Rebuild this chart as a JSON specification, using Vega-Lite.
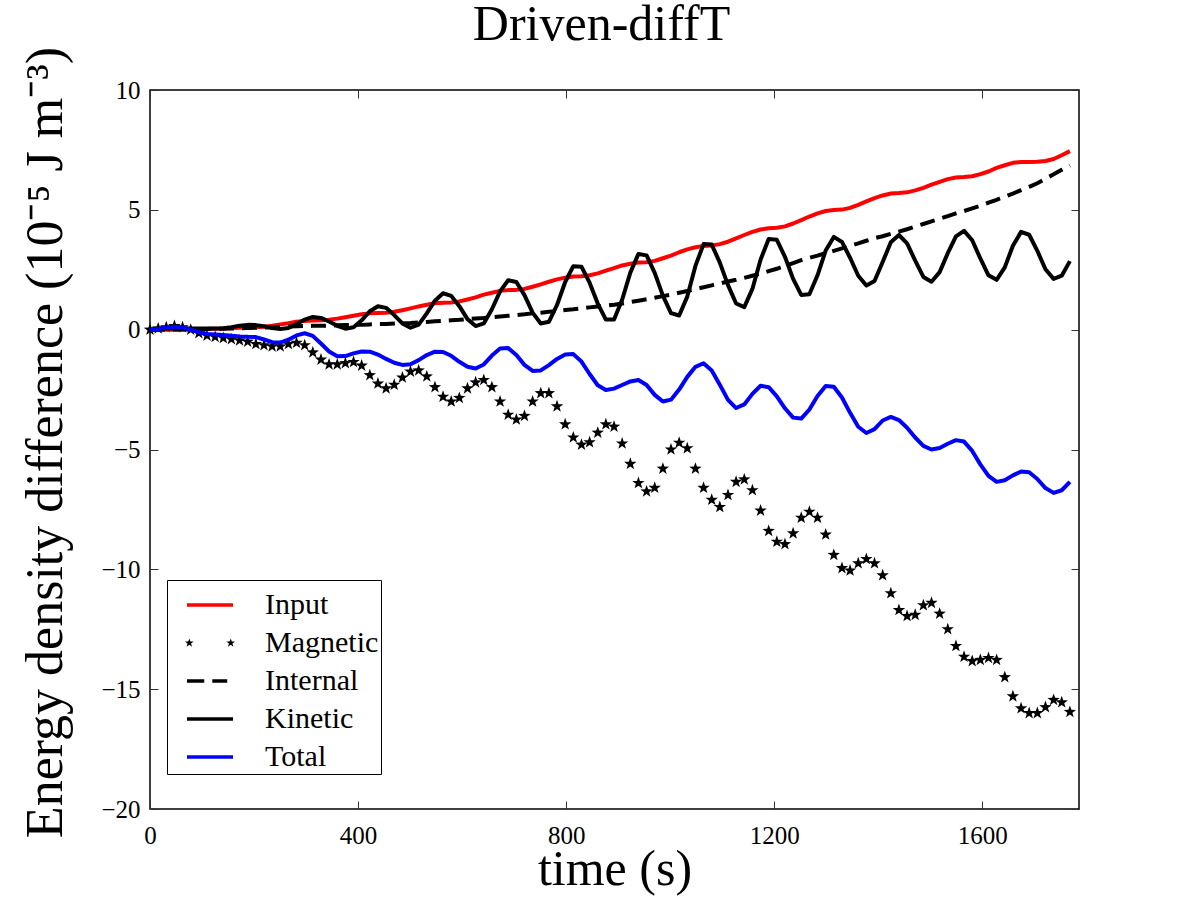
{
  "$schema": "https://vega.github.io/schema/vega-lite/v6.json",
  "width": 929,
  "height": 719,
  "autosize": {"type": "none"},
  "padding": {"left": 150, "top": 90, "right": 121, "bottom": 91},
  "background": "white",
  "title": {
    "text": "Driven-diffT",
    "font": "Liberation Serif",
    "fontSize": 50,
    "fontWeight": "normal",
    "color": "black",
    "anchor": "middle",
    "baseline": "alphabetic",
    "offset": 6,
    "dy": 50,
    "dx": -13
  },
  "config": {
    "view": {"stroke": "black", "strokeWidth": 1.5},
    "axis": {
      "domain": false,
      "grid": false,
      "tickSize": -8,
      "tickColor": "#333333",
      "tickWidth": 1,
      "labelFont": "Liberation Serif",
      "labelFontSize": 25,
      "labelColor": "black",
      "labelFlush": false,
      "labelOverlap": false,
      "titleFont": "Liberation Serif",
      "titleFontSize": 50,
      "titleFontWeight": "normal",
      "titleColor": "black"
    }
  },
  "data": {
    "values": [
      {"t": 0, "Input": 0, "Magnetic": 0, "Internal": 0, "Kinetic": 0, "Total": 0},
      {"t": 15.7, "Input": 0, "Magnetic": 0.05, "Internal": 0, "Kinetic": 0.02, "Total": 0.03},
      {"t": 31.3, "Input": 0, "Magnetic": 0.1, "Internal": 0.01, "Kinetic": 0.05, "Total": 0.09},
      {"t": 47.0, "Input": 0, "Magnetic": 0.15, "Internal": 0.01, "Kinetic": 0.05, "Total": 0.12},
      {"t": 62.6, "Input": 0.01, "Magnetic": 0.1, "Internal": 0.01, "Kinetic": 0.05, "Total": 0.09},
      {"t": 78.3, "Input": 0.01, "Magnetic": 0.0, "Internal": 0.02, "Kinetic": 0.05, "Total": 0.0},
      {"t": 93.9, "Input": 0.02, "Magnetic": -0.15, "Internal": 0.02, "Kinetic": 0.05, "Total": -0.11},
      {"t": 109.6, "Input": 0.03, "Magnetic": -0.25, "Internal": 0.03, "Kinetic": 0.05, "Total": -0.18},
      {"t": 125.2, "Input": 0.04, "Magnetic": -0.3, "Internal": 0.04, "Kinetic": 0.05, "Total": -0.2},
      {"t": 140.9, "Input": 0.05, "Magnetic": -0.35, "Internal": 0.04, "Kinetic": 0.06, "Total": -0.22},
      {"t": 156.5, "Input": 0.07, "Magnetic": -0.4, "Internal": 0.05, "Kinetic": 0.1, "Total": -0.25},
      {"t": 172.2, "Input": 0.08, "Magnetic": -0.45, "Internal": 0.06, "Kinetic": 0.16, "Total": -0.28},
      {"t": 187.8, "Input": 0.1, "Magnetic": -0.5, "Internal": 0.07, "Kinetic": 0.2, "Total": -0.3},
      {"t": 203.5, "Input": 0.1, "Magnetic": -0.6, "Internal": 0.08, "Kinetic": 0.19, "Total": -0.31},
      {"t": 219.1, "Input": 0.12, "Magnetic": -0.65, "Internal": 0.09, "Kinetic": 0.14, "Total": -0.41},
      {"t": 234.8, "Input": 0.16, "Magnetic": -0.7, "Internal": 0.1, "Kinetic": 0.07, "Total": -0.52},
      {"t": 250.4, "Input": 0.22, "Magnetic": -0.7, "Internal": 0.12, "Kinetic": 0.03, "Total": -0.54},
      {"t": 266.1, "Input": 0.27, "Magnetic": -0.6, "Internal": 0.13, "Kinetic": 0.07, "Total": -0.42},
      {"t": 281.7, "Input": 0.33, "Magnetic": -0.55, "Internal": 0.14, "Kinetic": 0.24, "Total": -0.24},
      {"t": 297.4, "Input": 0.36, "Magnetic": -0.65, "Internal": 0.15, "Kinetic": 0.42, "Total": -0.15},
      {"t": 313.0, "Input": 0.38, "Magnetic": -0.95, "Internal": 0.16, "Kinetic": 0.53, "Total": -0.26},
      {"t": 328.7, "Input": 0.39, "Magnetic": -1.25, "Internal": 0.16, "Kinetic": 0.49, "Total": -0.58},
      {"t": 344.3, "Input": 0.41, "Magnetic": -1.45, "Internal": 0.17, "Kinetic": 0.34, "Total": -0.91},
      {"t": 360.0, "Input": 0.46, "Magnetic": -1.45, "Internal": 0.18, "Kinetic": 0.16, "Total": -1.11},
      {"t": 375.6, "Input": 0.52, "Magnetic": -1.4, "Internal": 0.19, "Kinetic": 0.04, "Total": -1.1},
      {"t": 391.3, "Input": 0.58, "Magnetic": -1.35, "Internal": 0.2, "Kinetic": 0.1, "Total": -0.99},
      {"t": 406.9, "Input": 0.64, "Magnetic": -1.5, "Internal": 0.2, "Kinetic": 0.39, "Total": -0.91},
      {"t": 422.6, "Input": 0.68, "Magnetic": -1.9, "Internal": 0.22, "Kinetic": 0.77, "Total": -0.92},
      {"t": 438.2, "Input": 0.7, "Magnetic": -2.25, "Internal": 0.23, "Kinetic": 0.98, "Total": -1.04},
      {"t": 453.9, "Input": 0.71, "Magnetic": -2.45, "Internal": 0.24, "Kinetic": 0.91, "Total": -1.22},
      {"t": 469.5, "Input": 0.75, "Magnetic": -2.3, "Internal": 0.26, "Kinetic": 0.61, "Total": -1.38},
      {"t": 485.2, "Input": 0.81, "Magnetic": -2.0, "Internal": 0.27, "Kinetic": 0.26, "Total": -1.47},
      {"t": 500.8, "Input": 0.89, "Magnetic": -1.75, "Internal": 0.28, "Kinetic": 0.08, "Total": -1.44},
      {"t": 516.5, "Input": 0.97, "Magnetic": -1.7, "Internal": 0.3, "Kinetic": 0.21, "Total": -1.27},
      {"t": 532.1, "Input": 1.04, "Magnetic": -1.95, "Internal": 0.32, "Kinetic": 0.68, "Total": -1.06},
      {"t": 547.8, "Input": 1.1, "Magnetic": -2.4, "Internal": 0.35, "Kinetic": 1.21, "Total": -0.92},
      {"t": 563.4, "Input": 1.12, "Magnetic": -2.8, "Internal": 0.37, "Kinetic": 1.52, "Total": -0.93},
      {"t": 579.1, "Input": 1.13, "Magnetic": -3.0, "Internal": 0.39, "Kinetic": 1.41, "Total": -1.09},
      {"t": 594.7, "Input": 1.18, "Magnetic": -2.85, "Internal": 0.41, "Kinetic": 0.98, "Total": -1.34},
      {"t": 610.4, "Input": 1.26, "Magnetic": -2.45, "Internal": 0.44, "Kinetic": 0.44, "Total": -1.55},
      {"t": 626.0, "Input": 1.35, "Magnetic": -2.2, "Internal": 0.47, "Kinetic": 0.15, "Total": -1.62},
      {"t": 641.7, "Input": 1.46, "Magnetic": -2.1, "Internal": 0.49, "Kinetic": 0.26, "Total": -1.45},
      {"t": 657.3, "Input": 1.54, "Magnetic": -2.4, "Internal": 0.52, "Kinetic": 0.85, "Total": -1.08},
      {"t": 673.0, "Input": 1.62, "Magnetic": -3.0, "Internal": 0.55, "Kinetic": 1.6, "Total": -0.79},
      {"t": 688.6, "Input": 1.65, "Magnetic": -3.55, "Internal": 0.58, "Kinetic": 2.06, "Total": -0.77},
      {"t": 704.3, "Input": 1.66, "Magnetic": -3.75, "Internal": 0.61, "Kinetic": 1.99, "Total": -1.06},
      {"t": 719.9, "Input": 1.7, "Magnetic": -3.6, "Internal": 0.64, "Kinetic": 1.44, "Total": -1.47},
      {"t": 735.6, "Input": 1.79, "Magnetic": -3.0, "Internal": 0.68, "Kinetic": 0.71, "Total": -1.72},
      {"t": 751.2, "Input": 1.89, "Magnetic": -2.65, "Internal": 0.71, "Kinetic": 0.26, "Total": -1.7},
      {"t": 766.9, "Input": 2.0, "Magnetic": -2.65, "Internal": 0.75, "Kinetic": 0.33, "Total": -1.48},
      {"t": 782.5, "Input": 2.1, "Magnetic": -3.2, "Internal": 0.78, "Kinetic": 1.03, "Total": -1.22},
      {"t": 798.2, "Input": 2.17, "Magnetic": -3.95, "Internal": 0.82, "Kinetic": 1.99, "Total": -1.04},
      {"t": 813.8, "Input": 2.22, "Magnetic": -4.5, "Internal": 0.85, "Kinetic": 2.65, "Total": -1.02},
      {"t": 829.5, "Input": 2.23, "Magnetic": -4.8, "Internal": 0.89, "Kinetic": 2.63, "Total": -1.33},
      {"t": 845.1, "Input": 2.27, "Magnetic": -4.7, "Internal": 0.93, "Kinetic": 1.96, "Total": -1.85},
      {"t": 860.8, "Input": 2.35, "Magnetic": -4.3, "Internal": 0.97, "Kinetic": 1.09, "Total": -2.32},
      {"t": 876.4, "Input": 2.46, "Magnetic": -3.95, "Internal": 1.0, "Kinetic": 0.42, "Total": -2.52},
      {"t": 892.1, "Input": 2.57, "Magnetic": -4.05, "Internal": 1.04, "Kinetic": 0.42, "Total": -2.46},
      {"t": 907.7, "Input": 2.68, "Magnetic": -4.75, "Internal": 1.09, "Kinetic": 1.25, "Total": -2.31},
      {"t": 923.4, "Input": 2.75, "Magnetic": -5.6, "Internal": 1.15, "Kinetic": 2.38, "Total": -2.16},
      {"t": 939.0, "Input": 2.8, "Magnetic": -6.4, "Internal": 1.21, "Kinetic": 3.16, "Total": -2.1},
      {"t": 954.7, "Input": 2.81, "Magnetic": -6.75, "Internal": 1.27, "Kinetic": 3.1, "Total": -2.31},
      {"t": 970.3, "Input": 2.87, "Magnetic": -6.6, "Internal": 1.33, "Kinetic": 2.37, "Total": -2.72},
      {"t": 986.0, "Input": 2.98, "Magnetic": -5.8, "Internal": 1.4, "Kinetic": 1.42, "Total": -3.0},
      {"t": 1001.6, "Input": 3.09, "Magnetic": -5.0, "Internal": 1.46, "Kinetic": 0.69, "Total": -2.92},
      {"t": 1017.3, "Input": 3.23, "Magnetic": -4.72, "Internal": 1.54, "Kinetic": 0.59, "Total": -2.5},
      {"t": 1032.9, "Input": 3.35, "Magnetic": -4.95, "Internal": 1.61, "Kinetic": 1.38, "Total": -1.97},
      {"t": 1048.6, "Input": 3.44, "Magnetic": -5.8, "Internal": 1.69, "Kinetic": 2.66, "Total": -1.55},
      {"t": 1064.2, "Input": 3.49, "Magnetic": -6.6, "Internal": 1.77, "Kinetic": 3.57, "Total": -1.4},
      {"t": 1079.9, "Input": 3.51, "Magnetic": -7.1, "Internal": 1.85, "Kinetic": 3.55, "Total": -1.7},
      {"t": 1095.5, "Input": 3.57, "Magnetic": -7.4, "Internal": 1.93, "Kinetic": 2.8, "Total": -2.3},
      {"t": 1111.2, "Input": 3.67, "Magnetic": -6.9, "Internal": 2.01, "Kinetic": 1.86, "Total": -2.93},
      {"t": 1126.8, "Input": 3.81, "Magnetic": -6.35, "Internal": 2.08, "Kinetic": 1.09, "Total": -3.27},
      {"t": 1142.5, "Input": 3.95, "Magnetic": -6.25, "Internal": 2.16, "Kinetic": 0.94, "Total": -3.12},
      {"t": 1158.1, "Input": 4.08, "Magnetic": -6.7, "Internal": 2.25, "Kinetic": 1.7, "Total": -2.68},
      {"t": 1173.8, "Input": 4.18, "Magnetic": -7.55, "Internal": 2.34, "Kinetic": 2.92, "Total": -2.34},
      {"t": 1189.4, "Input": 4.23, "Magnetic": -8.4, "Internal": 2.44, "Kinetic": 3.78, "Total": -2.4},
      {"t": 1205.1, "Input": 4.25, "Magnetic": -8.85, "Internal": 2.54, "Kinetic": 3.75, "Total": -2.78},
      {"t": 1220.7, "Input": 4.31, "Magnetic": -8.95, "Internal": 2.66, "Kinetic": 3.04, "Total": -3.28},
      {"t": 1236.4, "Input": 4.43, "Magnetic": -8.5, "Internal": 2.78, "Kinetic": 2.12, "Total": -3.67},
      {"t": 1252.0, "Input": 4.57, "Magnetic": -7.85, "Internal": 2.9, "Kinetic": 1.45, "Total": -3.71},
      {"t": 1267.7, "Input": 4.72, "Magnetic": -7.6, "Internal": 3.0, "Kinetic": 1.48, "Total": -3.33},
      {"t": 1283.3, "Input": 4.85, "Magnetic": -7.85, "Internal": 3.09, "Kinetic": 2.27, "Total": -2.77},
      {"t": 1299.0, "Input": 4.95, "Magnetic": -8.55, "Internal": 3.19, "Kinetic": 3.3, "Total": -2.35},
      {"t": 1314.6, "Input": 4.99, "Magnetic": -9.4, "Internal": 3.29, "Kinetic": 3.87, "Total": -2.38},
      {"t": 1330.3, "Input": 5.01, "Magnetic": -9.95, "Internal": 3.39, "Kinetic": 3.66, "Total": -2.83},
      {"t": 1345.9, "Input": 5.08, "Magnetic": -10.05, "Internal": 3.5, "Kinetic": 3.0, "Total": -3.47},
      {"t": 1361.6, "Input": 5.21, "Magnetic": -9.75, "Internal": 3.6, "Kinetic": 2.25, "Total": -4.05},
      {"t": 1377.2, "Input": 5.35, "Magnetic": -9.57, "Internal": 3.71, "Kinetic": 1.84, "Total": -4.31},
      {"t": 1392.9, "Input": 5.49, "Magnetic": -9.75, "Internal": 3.82, "Kinetic": 2.03, "Total": -4.15},
      {"t": 1408.5, "Input": 5.6, "Magnetic": -10.25, "Internal": 3.9, "Kinetic": 2.82, "Total": -3.79},
      {"t": 1424.2, "Input": 5.68, "Magnetic": -11.0, "Internal": 4.0, "Kinetic": 3.65, "Total": -3.64},
      {"t": 1439.8, "Input": 5.7, "Magnetic": -11.7, "Internal": 4.09, "Kinetic": 3.95, "Total": -3.77},
      {"t": 1455.5, "Input": 5.73, "Magnetic": -11.95, "Internal": 4.19, "Kinetic": 3.6, "Total": -4.09},
      {"t": 1471.1, "Input": 5.81, "Magnetic": -11.9, "Internal": 4.3, "Kinetic": 2.88, "Total": -4.5},
      {"t": 1486.8, "Input": 5.92, "Magnetic": -11.5, "Internal": 4.41, "Kinetic": 2.2, "Total": -4.85},
      {"t": 1502.4, "Input": 6.05, "Magnetic": -11.4, "Internal": 4.52, "Kinetic": 2.0, "Total": -5.0},
      {"t": 1518.1, "Input": 6.17, "Magnetic": -11.85, "Internal": 4.63, "Kinetic": 2.4, "Total": -4.94},
      {"t": 1533.7, "Input": 6.28, "Magnetic": -12.5, "Internal": 4.74, "Kinetic": 3.19, "Total": -4.76},
      {"t": 1549.4, "Input": 6.35, "Magnetic": -13.2, "Internal": 4.85, "Kinetic": 3.89, "Total": -4.61},
      {"t": 1565.0, "Input": 6.37, "Magnetic": -13.65, "Internal": 4.95, "Kinetic": 4.12, "Total": -4.67},
      {"t": 1580.7, "Input": 6.4, "Magnetic": -13.83, "Internal": 5.06, "Kinetic": 3.73, "Total": -5.06},
      {"t": 1596.3, "Input": 6.49, "Magnetic": -13.78, "Internal": 5.17, "Kinetic": 2.97, "Total": -5.62},
      {"t": 1612.0, "Input": 6.6, "Magnetic": -13.7, "Internal": 5.3, "Kinetic": 2.27, "Total": -6.1},
      {"t": 1627.6, "Input": 6.75, "Magnetic": -13.78, "Internal": 5.42, "Kinetic": 2.08, "Total": -6.35},
      {"t": 1643.3, "Input": 6.86, "Magnetic": -14.5, "Internal": 5.55, "Kinetic": 2.6, "Total": -6.28},
      {"t": 1658.9, "Input": 6.96, "Magnetic": -15.3, "Internal": 5.68, "Kinetic": 3.5, "Total": -6.08},
      {"t": 1674.6, "Input": 7.0, "Magnetic": -15.8, "Internal": 5.82, "Kinetic": 4.08, "Total": -5.92},
      {"t": 1690.2, "Input": 7.0, "Magnetic": -16.0, "Internal": 5.96, "Kinetic": 3.96, "Total": -5.95},
      {"t": 1705.9, "Input": 7.01, "Magnetic": -16.0, "Internal": 6.11, "Kinetic": 3.29, "Total": -6.23},
      {"t": 1721.5, "Input": 7.04, "Magnetic": -15.75, "Internal": 6.3, "Kinetic": 2.52, "Total": -6.61},
      {"t": 1737.2, "Input": 7.12, "Magnetic": -15.45, "Internal": 6.48, "Kinetic": 2.12, "Total": -6.81},
      {"t": 1752.8, "Input": 7.28, "Magnetic": -15.55, "Internal": 6.67, "Kinetic": 2.25, "Total": -6.7},
      {"t": 1768.5, "Input": 7.45, "Magnetic": -15.95, "Internal": 6.85, "Kinetic": 2.86, "Total": -6.35}
    ]
  },
  "transform": [
    {"fold": ["Input", "Magnetic", "Internal", "Kinetic", "Total"], "as": ["series", "value"]}
  ],
  "layer": [
    {
      "transform": [{"filter": "datum.series === 'Magnetic'"}],
      "mark": {
        "type": "point",
        "shape": "M0,-1L0.235,-0.324L0.951,-0.309L0.38,0.124L0.588,0.809L0,0.4L-0.588,0.809L-0.38,0.124L-0.951,-0.309L-0.235,-0.324Z",
        "filled": true,
        "color": "black",
        "opacity": 1,
        "size": 170
      },
      "encoding": {
        "x": {
          "field": "t",
          "type": "quantitative",
          "scale": {"domain": [0, 1786], "nice": false, "zero": false},
          "axis": {"orient": "top", "values": [0, 400, 800, 1200, 1600], "labels": false, "title": null}
        },
        "y": {
          "field": "value",
          "type": "quantitative",
          "scale": {"domain": [-20, 10], "nice": false, "zero": false},
          "axis": {"orient": "right", "values": [-20, -15, -10, -5, 0, 5, 10], "labels": false, "title": null}
        }
      }
    },
    {
      "transform": [{"filter": "datum.series === 'Input'"}],
      "mark": {"type": "line", "strokeWidth": 4, "strokeJoin": "round", "color": "#ff0000"},
      "encoding": {
        "x": {
          "field": "t",
          "type": "quantitative",
          "scale": {"domain": [0, 1786], "nice": false, "zero": false},
          "axis": {
            "orient": "bottom",
            "values": [0, 400, 800, 1200, 1600],
            "format": "d",
            "labelPadding": 22,
            "title": "time (s)",
            "titleY": 75,
            "titleBaseline": "alphabetic"
          }
        },
        "y": {
          "field": "value",
          "type": "quantitative",
          "scale": {"domain": [-20, 10], "nice": false, "zero": false},
          "axis": {
            "orient": "left",
            "values": [-20, -15, -10, -5, 0, 5, 10],
            "format": "d",
            "labelPadding": 18,
            "title": "Energy density difference (10⁻⁵ J m⁻³)",
            "titleFontSize": 52,
            "titleX": -105,
            "titleY": 352,
            "titleAngle": 270,
            "titleAlign": "center",
            "titleBaseline": "middle"
          }
        }
      }
    },
    {
      "transform": [{"filter": "datum.series === 'Internal'"}],
      "mark": {"type": "line", "strokeWidth": 4, "strokeDash": [15, 8], "color": "black"},
      "encoding": {
        "x": {"field": "t", "type": "quantitative", "scale": {"domain": [0, 1786], "nice": false, "zero": false}, "axis": null},
        "y": {"field": "value", "type": "quantitative", "scale": {"domain": [-20, 10], "nice": false, "zero": false}, "axis": null}
      }
    },
    {
      "transform": [{"filter": "datum.series === 'Kinetic'"}],
      "mark": {"type": "line", "strokeWidth": 4, "strokeJoin": "round", "color": "black"},
      "encoding": {
        "x": {"field": "t", "type": "quantitative", "scale": {"domain": [0, 1786], "nice": false, "zero": false}, "axis": null},
        "y": {"field": "value", "type": "quantitative", "scale": {"domain": [-20, 10], "nice": false, "zero": false}, "axis": null}
      }
    },
    {
      "transform": [{"filter": "datum.series === 'Total'"}],
      "mark": {"type": "line", "strokeWidth": 4, "strokeJoin": "round", "color": "#0000ff"},
      "encoding": {
        "x": {"field": "t", "type": "quantitative", "scale": {"domain": [0, 1786], "nice": false, "zero": false}, "axis": null},
        "y": {"field": "value", "type": "quantitative", "scale": {"domain": [-20, 10], "nice": false, "zero": false}, "axis": null}
      }
    },
    {
      "transform": [{"filter": "datum.series === 'none'"}],
      "mark": {"type": "point", "filled": true, "opacity": 1},
      "encoding": {
        "x": {"field": "t", "type": "quantitative", "scale": {"domain": [0, 1786], "nice": false, "zero": false}, "axis": null},
        "y": {"field": "value", "type": "quantitative", "scale": {"domain": [-20, 10], "nice": false, "zero": false}, "axis": null},
        "color": {
          "field": "series",
          "type": "nominal",
          "scale": {
            "domain": ["Input", "Magnetic", "Internal", "Kinetic", "Total"],
            "range": ["#ff0000", "#000000", "#000000", "#000000", "#0000ff"]
          },
          "legend": {
            "title": null,
            "orient": "none",
            "legendX": 17,
            "legendY": 490,
            "direction": "vertical",
            "padding": 2,
            "strokeColor": "black",
            "fillColor": "white",
            "symbolSize": 2116,
            "symbolStrokeWidth": 0,
            "symbolOpacity": 1,
            "symbolOffset": 18,
            "labelOffset": 32,
            "labelFont": "Liberation Serif",
            "labelFontSize": 30,
            "labelColor": "black",
            "rowPadding": -3,
            "labelExpr": "datum.label + '\u00a0\u00a0\u00a0'"
          }
        },
        "shape": {
          "field": "series",
          "type": "nominal",
          "scale": {
            "domain": ["Input", "Magnetic", "Internal", "Kinetic", "Total"],
            "range": [
              "M-1,-0.075H1V0.075H-1Z",
              "M-0.9,-0.2L-0.853,-0.065L-0.71,-0.062L-0.824,0.025L-0.782,0.162L-0.9,0.08L-1.018,0.162L-0.976,0.025L-1.09,-0.062L-0.947,-0.065Z M0.9,-0.2L0.947,-0.065L1.09,-0.062L0.976,0.025L1.018,0.162L0.9,0.08L0.782,0.162L0.824,0.025L0.71,-0.062L0.853,-0.065Z",
              "M-1,-0.075H-0.25V0.075H-1Z M0.1,-0.075H0.75V0.075H0.1Z",
              "M-1,-0.075H1V0.075H-1Z",
              "M-1,-0.075H1V0.075H-1Z"
            ]
          },
          "legend": {
            "title": null,
            "orient": "none",
            "legendX": 17,
            "legendY": 490,
            "direction": "vertical",
            "padding": 2,
            "strokeColor": "black",
            "fillColor": "white",
            "symbolSize": 2116,
            "symbolStrokeWidth": 0,
            "symbolOpacity": 1,
            "symbolOffset": 18,
            "labelOffset": 32,
            "labelFont": "Liberation Serif",
            "labelFontSize": 30,
            "labelColor": "black",
            "rowPadding": -3,
            "labelExpr": "datum.label + '\u00a0\u00a0\u00a0'"
          }
        }
      }
    }
  ],
  "resolve": {"axis": {"x": "independent", "y": "independent"}}
}
